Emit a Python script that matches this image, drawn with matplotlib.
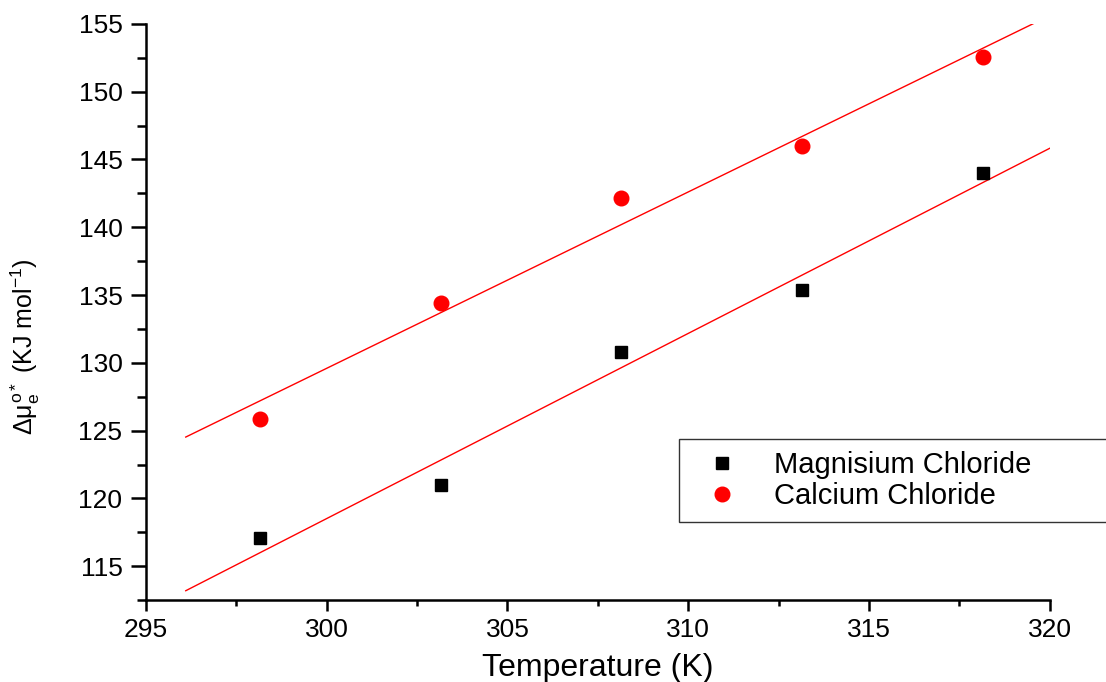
import numpy as np
import matplotlib.pyplot as plt
from matplotlib.ticker import MultipleLocator

plt.rcParams['font.family'] = ['Liberation Sans', 'DejaVu Sans']
plt.rcParams['mathtext.fontset'] = 'custom'
plt.rcParams['mathtext.rm'] = 'Liberation Sans'
plt.rcParams['mathtext.it'] = 'Liberation Sans'

temps = [298.15, 303.15, 308.15, 313.15, 318.15]
mg_vals = [117.07, 120.98, 130.8, 135.37, 144.0]
ca_vals = [125.85, 134.41, 142.16, 146.0, 152.56]
fit_x = [296.1, 320.0]

fig = plt.figure(figsize=(11.06, 6.82), dpi=100)
ax = fig.add_axes([0.132, 0.120, 0.817, 0.845])

for vals in (mg_vals, ca_vals):
    k, b = np.polyfit(temps, vals, 1)
    xs = np.array(fit_x)
    ax.plot(xs, k * xs + b, color='red', lw=1.0, zorder=2)

ax.plot(temps, mg_vals, 's', color='black', ms=9, ls='none',
        label='Magnisium Chloride', zorder=3)
ax.plot(temps, ca_vals, 'o', color='red', ms=10.5, ls='none',
        label='Calcium Chloride', zorder=3)

ax.set_xlim(295, 320)
ax.set_ylim(112.5, 155)
ax.xaxis.set_major_locator(MultipleLocator(5))
ax.xaxis.set_minor_locator(MultipleLocator(2.5))
ax.yaxis.set_major_locator(MultipleLocator(5))
ax.yaxis.set_minor_locator(MultipleLocator(2.5))

for s in ('top', 'right'):
    ax.spines[s].set_visible(False)
for s in ('left', 'bottom'):
    ax.spines[s].set_linewidth(1.8)

ax.tick_params(which='both', direction='out', width=1.8, labelsize=19)
ax.tick_params(axis='x', which='major', length=8, pad=5)
ax.tick_params(axis='x', which='minor', length=4.5)
ax.tick_params(axis='y', which='major', length=11, pad=6)
ax.tick_params(axis='y', which='minor', length=6.5)

ax.set_xlabel('Temperature (K)', fontsize=23, labelpad=8)
ax.set_ylabel(r'$\Delta\mu_e^{o*}$ (KJ mol$^{-1}$)', fontsize=18)
ax.yaxis.set_label_coords(-0.115, 0.44)

leg = ax.legend(loc='lower left', bbox_to_anchor=(0.614, 0.235, 0.45, 0.12),
                bbox_transform=fig.transFigure, mode='expand', fontsize=21,
                frameon=True, fancybox=False, edgecolor='black',
                handletextpad=0.7, borderpad=0.4, labelspacing=0.1,
                handlelength=2.15, borderaxespad=0)
leg.get_frame().set_linewidth(1.0)

fig.savefig('out.png', dpi=100)
